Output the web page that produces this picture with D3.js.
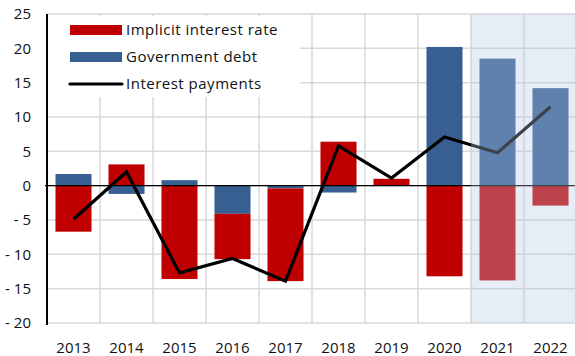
<!DOCTYPE html>
<html>
<head>
<meta charset="utf-8">
<script src="https://cdn.jsdelivr.net/npm/d3@7"></script>
<style>
	body { margin: 0; background: #fff; }
	text { font-family: "Open Sans", Lato, sans-serif; fill: #111; }
</style>
</head>
<body>
<div id="chart"></div>
<script>
// values
const years = ["2013", "2014", "2015", "2016", "2017", "2018", "2019", "2020", "2021", "2022"];
const rate = [-6.7, 3.1, -13.6, -6.6, -13.5, 6.4, 1.0, -13.2, -13.8, -2.9];
const debt = [1.7, -1.2, 0.8, -4.1, -0.4, -1.0, 0.0, 20.2, 18.5, 14.2];
const payments = [-4.9, 2.0, -12.7, -10.6, -13.9, 5.8, 1.1, 7.1, 4.8, 11.5];
const forecast = ["2021", "2022"];
const yTicks = [-20, -15, -10, -5, 0, 5, 10, 15, 20, 25];
const legendNames = ["Implicit interest rate", "Government debt", "Interest payments"];

drawchart()

function drawchart() {
	const width = 575, height = 356;
	const left = 47, right = 577, top = 14, bottom = 323;

	const svg = d3.select("#chart")
		.append("svg")
		.attr("width", width)
		.attr("height", height);

	const x = d3.scaleBand()
		.domain(years)
		.range([left, right])
		.paddingInner(0.32)
		.paddingOuter(0.16);

	const y = d3.scaleLinear()
		.domain([-20, 25])
		.range([bottom, top]);

	const step = x.step();
	const colors = { rate: "#c00000", debt: "#375f92" };

	// grid
	const grid = svg.append("g").attr("stroke", "#d9d9d9").attr("stroke-width", 1.5);
	grid.selectAll(".h")
		.data(yTicks)
		.join("line")
		.attr("x1", left).attr("x2", width)
		.attr("y1", d => y(d)).attr("y2", d => y(d));
	grid.selectAll(".v")
		.data(years.slice(1))
		.join("line")
		.attr("x1", d => x(d) - (step - x.bandwidth()) / 2)
		.attr("x2", d => x(d) - (step - x.bandwidth()) / 2)
		.attr("y1", top).attr("y2", bottom);

	// stacked bars, negatives stacked downward
	const table = years.map((yr, i) => ({ year: yr, debt: debt[i], rate: rate[i] }));
	const series = d3.stack()
		.keys(["debt", "rate"])
		.offset(d3.stackOffsetDiverging)(table);

	svg.append("g")
		.selectAll("g")
		.data(series)
		.join("g")
		.attr("fill", d => colors[d.key])
		.selectAll("rect")
		.data(d => d)
		.join("rect")
		.attr("x", d => x(d.data.year))
		.attr("width", x.bandwidth())
		.attr("y", d => y(Math.max(d[0], d[1])))
		.attr("height", d => Math.abs(y(d[0]) - y(d[1])));

	// zero line
	svg.append("line")
		.attr("x1", left - 2).attr("x2", width)
		.attr("y1", y(0)).attr("y2", y(0))
		.attr("stroke", "#000").attr("stroke-width", 1.2);

	// interest payments line
	const line = d3.line()
		.x((d, i) => x(years[i]) + x.bandwidth() / 2)
		.y(d => y(d));
	svg.append("path")
		.datum(payments)
		.attr("fill", "none")
		.attr("stroke", "#000")
		.attr("stroke-width", 3.2)
		.attr("stroke-linejoin", "miter")
		.attr("d", line);

	// forecast shading on top
	const fx = x(forecast[0]) - (step - x.bandwidth()) / 2;
	svg.append("rect")
		.attr("x", fx)
		.attr("y", top)
		.attr("width", width - fx)
		.attr("height", bottom - top)
		.attr("fill", "rgb(178,200,228)")
		.attr("fill-opacity", 0.33);

	// left axis
	svg.append("line")
		.attr("x1", left).attr("x2", left)
		.attr("y1", top).attr("y2", bottom + 2)
		.attr("stroke", "#000").attr("stroke-width", 2);

	svg.append("g")
		.selectAll("text")
		.data(yTicks)
		.join("text")
		.attr("x", 31)
		.attr("y", d => y(d))
		.attr("dy", "0.36em")
		.attr("text-anchor", "end")
		.style("font-size", "15px")
		.text(d => d < 0 ? "- " + Math.abs(d) : d);

	svg.append("g")
		.selectAll("text")
		.data(years)
		.join("text")
		.attr("x", d => x(d) + x.bandwidth() / 2)
		.attr("y", 353)
		.attr("text-anchor", "middle")
		.style("font-size", "15px")
		.text(d => d);

	// legend
	const lg = svg.append("g");
	lg.append("rect")
		.attr("x", left + 1).attr("y", top + 2)
		.attr("width", 252).attr("height", 81)
		.attr("fill", "#fff");
	const rows = lg.selectAll("g")
		.data(legendNames)
		.join("g")
		.attr("transform", (d, i) => `translate(70,${30 + i * 27})`);
	rows.filter((d, i) => i < 2)
		.append("rect")
		.attr("x", 0).attr("y", -5)
		.attr("width", 52).attr("height", 10)
		.attr("fill", (d, i) => i == 0 ? colors.rate : colors.debt);
	rows.filter((d, i) => i == 2)
		.append("line")
		.attr("x1", 0).attr("x2", 52)
		.attr("stroke", "#000").attr("stroke-width", 3.2)
		.attr("stroke-linecap", "round");
	rows.append("text")
		.attr("x", 56)
		.attr("dy", "0.36em")
		.style("font-size", "15px")
		.style("letter-spacing", "0.5px")
		.text(d => d);
}
</script>
</body>
</html>
